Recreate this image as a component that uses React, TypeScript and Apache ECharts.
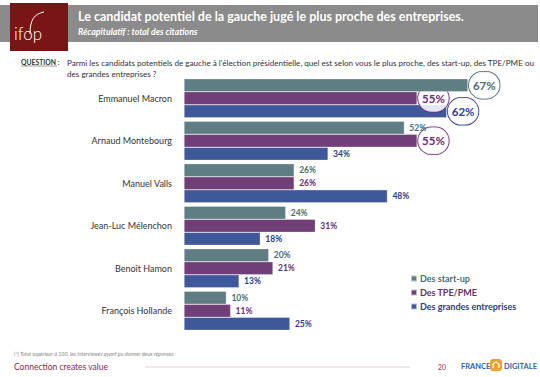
import React, { useEffect, useRef } from "react";
import * as echarts from "echarts";

const candidates = [
  "Emmanuel Macron",
  "Arnaud Montebourg",
  "Manuel Valls",
  "Jean-Luc Mélenchon",
  "Benoît Hamon",
  "François Hollande",
];
const seriesNames = ["Des start-up", "Des TPE/PME", "Des grandes entreprises"];
const startup = [67, 52, 26, 24, 20, 10];
const tpePme = [55, 55, 26, 31, 21, 11];
const grandes = [62, 34, 48, 18, 13, 25];
// indexes of candidates whose label is circled, per series
const circledStartup = [0];
const circledTpe = [0, 1];
const circledGrandes = [0];

const barColors = ["#5E7E83", "#703F78", "#3F5899"];
const labelColors = ["#4A6C71", "#6B2B76", "#2B3C8E"];

const FONT = "Lato, 'Open Sans', sans-serif";

function buildData(values: number[], circled: number[], idx: number) {
  return values.map((v, i) =>
    circled.includes(i)
      ? {
          value: v,
          label: {
            fontSize: 11.5,
            fontWeight: "bold",
            borderColor: labelColors[idx],
            borderWidth: 0.8,
            borderRadius: 15,
            padding: [8, 4, 7, 4],
            backgroundColor: "rgba(255,255,255,0.85)",
            distance: 1,
          },
        }
      : v
  );
}

export default function App() {
  const ref = useRef<HTMLDivElement>(null);
  useEffect(() => {
    document.body.style.margin = "0";
    const chart = echarts.init(ref.current!, null, { renderer: "svg" });
    const series = [startup, tpePme, grandes].map((vals, idx) => ({
      name: seriesNames[idx],
      type: "bar",
      data: buildData(vals, [circledStartup, circledTpe, circledGrandes][idx], idx),
      barGap: "0%",
      barCategoryGap: "8%",
      itemStyle: { color: barColors[idx], borderColor: "rgba(255,255,255,0.6)", borderWidth: 0.5 },
      label: {
        show: true,
        position: "right",
        distance: 5,
        formatter: "{c}%",
        color: labelColors[idx],
        fontSize: 8.5,
        fontWeight: "bold",
        fontFamily: FONT,
      },
      z: idx === 0 ? 4 : idx === 1 ? 3 : 2,
    }));

    const option: any = {
      animation: false,
      backgroundColor: "#ffffff",
      textStyle: { fontFamily: FONT },
      grid: { left: 184, top: 77, width: 339, height: 255, containLabel: false },
      xAxis: {
        type: "value",
        min: 0,
        max: 80,
        show: false,
      },
      yAxis: {
        type: "category",
        data: candidates,
        inverse: true,
        axisLine: { show: false },
        axisTick: { show: false },
        axisLabel: { color: "#333333", fontSize: 9, margin: 12, fontFamily: FONT },
      },
      legend: {
        orient: "vertical",
        left: 405,
        top: 269,
        itemWidth: 6,
        itemHeight: 6,
        itemGap: 5,
        icon: "rect",
        data: seriesNames.map((n, i) => ({
          name: n,
          textStyle: { color: labelColors[i], fontWeight: "bold", fontSize: 9, fontFamily: FONT },
        })),
        textStyle: { fontSize: 9, padding: [0, 0, 0, -2] },
      },
      series,
      graphic: [
        { type: "rect", shape: { x: 0, y: 5, width: 538, height: 37 }, style: { fill: "#8B8B8B" } },
        { type: "rect", shape: { x: 10, y: 3, width: 58, height: 48 }, style: { fill: "#7A1515" } },
        {
          type: "bezierCurve",
          shape: { x1: 30, y1: 34, cpx1: 30, cpy1: 20, cpx2: 34, cpy2: 14, x2: 44, y2: 12 },
          style: { stroke: "#ffffff", lineWidth: 1, fill: "none" },
        },
        {
          type: "text",
          x: 14,
          y: 25,
          style: { text: "ifop", fill: "#ffffff", fontSize: 17, fontFamily: FONT, fontWeight: 300 },
        },
        {
          type: "text",
          x: 78,
          y: 10,
          style: {
            text: "Le candidat potentiel de la gauche jugé le plus proche des entreprises.",
            fill: "#ffffff",
            fontSize: 12.5,
            fontWeight: "bold",
            fontFamily: FONT,
          },
        },
        {
          type: "text",
          x: 78,
          y: 27,
          style: {
            text: "Récapitulatif : total des citations",
            fill: "#ffffff",
            fontSize: 8.8,
            fontWeight: "bold",
            fontStyle: "italic",
            fontFamily: FONT,
          },
        },
        {
          type: "text",
          x: 21,
          y: 58,
          style: { text: "QUESTION :", fill: "#333333", fontSize: 6.8, fontWeight: "bold", fontFamily: FONT },
        },
        { type: "line", shape: { x1: 21, y1: 66, x2: 57, y2: 66 }, style: { stroke: "#333333", lineWidth: 0.5 } },
        {
          type: "text",
          x: 67,
          y: 57,
          style: {
            text:
              "Parmi les candidats potentiels de gauche à l'élection présidentielle, quel est selon vous le plus proche, des start-up, des TPE/PME ou\ndes grandes entreprises ?",
            fill: "#333333",
            fontSize: 8.1,
            lineHeight: 11,
            fontFamily: FONT,
          },
        },
        {
          type: "text",
          x: 14,
          y: 351,
          style: {
            text: "(*) Total supérieur à 100, les interviewés ayant pu donner deux réponses",
            fill: "#888888",
            fontSize: 5.4,
            fontStyle: "italic",
            fontFamily: FONT,
          },
        },
        {
          type: "text",
          x: 14,
          y: 362,
          style: { text: "Connection creates value", fill: "#8C2A3A", fontSize: 8.5, fontFamily: FONT },
        },
        { type: "line", shape: { x1: 145, y1: 367, x2: 410, y2: 367 }, style: { stroke: "#E6CDD1", lineWidth: 1 } },
        {
          type: "text",
          x: 438,
          y: 363,
          style: { text: "20", fill: "#A0303A", fontSize: 7, fontFamily: FONT },
        },
        {
          type: "text",
          x: 461,
          y: 362,
          style: { text: "FRANCE", fill: "#2F63B0", fontSize: 7.5, fontWeight: "bold", fontFamily: FONT },
        },
        {
          type: "rect",
          shape: { x: 490, y: 359, width: 12, height: 12, r: 3 },
          style: { fill: "#F0A030" },
        },
        {
          type: "polyline",
          shape: { points: [[493, 368], [493, 364], [496, 362], [499, 364], [499, 368]] },
          style: { stroke: "#ffffff", lineWidth: 1.2, fill: "none" },
        },
        {
          type: "text",
          x: 504,
          y: 362,
          style: { text: "DIGITALE", fill: "#2F63B0", fontSize: 7.5, fontWeight: "bold", fontFamily: FONT },
        },
      ],
    };
    chart.setOption(option);
    return () => chart.dispose();
  }, []);
  return <div ref={ref} style={{ position: "absolute", left: 0, top: 0, width: 540, height: 377 }} />;
}
